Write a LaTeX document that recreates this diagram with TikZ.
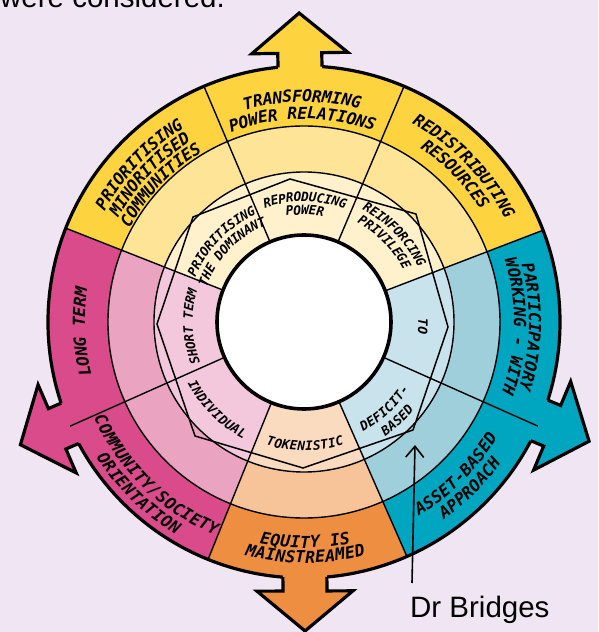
\documentclass[tikz,border=0pt]{standalone}
\usepackage{fontspec}
\setmainfont{Liberation Sans}
\newfontfamily\labmono{DejaVu Sans Mono}
\usetikzlibrary{decorations.text,arrows.meta}
\definecolor{bgcol}{RGB}{240,230,243}
\definecolor{yelA}{RGB}{253,212,64}
\definecolor{yelB}{RGB}{254,228,150}
\definecolor{yelC}{RGB}{254,241,204}
\definecolor{pnkA}{RGB}{217,75,138}
\definecolor{pnkB}{RGB}{235,163,194}
\definecolor{pnkC}{RGB}{243,200,220}
\definecolor{tealA}{RGB}{0,166,192}
\definecolor{tealB}{RGB}{160,207,220}
\definecolor{tealC}{RGB}{200,227,236}
\definecolor{orgA}{RGB}{238,142,64}
\definecolor{orgB}{RGB}{246,196,152}
\definecolor{orgC}{RGB}{250,219,192}

\newcommand\outf{\labmono\fontsize{16.5}{16.5}\selectfont\bfseries\itshape}
\newcommand\innf{\labmono\fontsize{12.8}{12.8}\selectfont\bfseries\itshape}

\newcommand\wheelpie[4]{\fill[#4] (0,0) -- (#1:#3) arc[start angle=#1,end angle=#2,radius=#3] -- cycle;}
\newcommand\cwlabel[5]{\path[decorate,decoration={text along path,text align=center,raise=#4,text={|#3|#5}}] ({#2+60}:#1) arc[start angle={#2+60},end angle={#2-60},radius=#1];}
\newcommand\ccwlabel[5]{\path[decorate,decoration={text along path,text align=center,raise=#4,text={|#3|#5}}] ({#2-60}:#1) arc[start angle={#2-60},end angle={#2+60},radius=#1];}
\newcommand\wheelarrow[2]{\begin{scope}[rotate=#1]
 \fill[#2] (243,-22) -- (269,-22) -- (269,-48) -- (309,0) -- (269,48) -- (269,22) -- (243,22) -- cycle;
 \draw[rimline] (255,-22) -- (269,-22) -- (269,-48) -- (309,0) -- (269,48) -- (269,22) -- (255,22);
 \end{scope}}

\begin{document}
\begin{tikzpicture}[x=1pt,y=1pt,
  rimline/.style={line width=3.2pt,line join=miter,miter limit=10},
  thinline/.style={line width=1.4pt},
  octline/.style={line width=1.5pt,line join=miter},
  plaintext/.style={anchor=base west,inner sep=0pt,font=\fontsize{29.5}{31}\selectfont}]
\useasboundingbox (-304,-310) rectangle (294,322);
\clip (-304,-310) rectangle (294,322);
\fill[bgcol] (-304,-310) rectangle (294,322);
\node[plaintext] (prevline) at (-304,314) {were considered.};
% sectors
\wheelpie{21}{158.5}{256}{yelA}\wheelpie{21}{158.5}{196}{yelB}\wheelpie{21}{158.5}{150}{yelC}
\wheelpie{158.5}{248}{256}{pnkA}\wheelpie{158.5}{248}{196}{pnkB}\wheelpie{158.5}{248}{150}{pnkC}
\wheelpie{248}{293.7}{256}{orgA}\wheelpie{248}{293.7}{196}{orgB}\wheelpie{248}{293.7}{150}{orgC}
\wheelpie{293.7}{381}{256}{tealA}\wheelpie{293.7}{381}{196}{tealB}\wheelpie{293.7}{381}{150}{tealC}
\draw[rimline] (0,0) circle[radius=256];
\wheelarrow{90.9}{yelA}
\wheelarrow{270.2}{orgA}
\wheelarrow{203.4}{pnkA}
\wheelarrow{-22.7}{tealA}
\draw[thinline] (0,0) circle[radius=196];
\draw[thinline] (0,0) circle[radius=150];
\foreach \a in {-24,21,67,113,158.5,204,248,293.7} \draw[thinline] (\a:87) -- (\a:256);
\fill[white] (0,0) circle[radius=87];
\draw[line width=3.6pt] (0,0) circle[radius=87];
\draw[octline] (-147,-2) -- (-111,105) -- (-14,143) -- (112,108) -- (144,-5) -- (109,-108) -- (-1,-146) -- (-109,-114) -- cycle;
% outer labels
\cwlabel{226}{90.5}{\outf}{-6pt}{TRANSFORMING}
\cwlabel{209}{90.5}{\outf}{-6pt}{POWER RELATIONS}
\cwlabel{234}{136.3}{\outf}{-6pt}{PRIORITISING}
\cwlabel{219}{136.3}{\outf}{-6pt}{MINORITISED}
\cwlabel{204}{136.3}{\outf}{-6pt}{COMMUNITIES}
\cwlabel{232}{44.3}{\outf}{-6pt}{REDISTRIBUTING}
\cwlabel{215}{44.3}{\outf}{-6pt}{RESOURCES}
\cwlabel{231}{-1.3}{\outf}{-6pt}{PARTICIPATORY}
\cwlabel{216}{-1.3}{\outf}{-6pt}{WORKING - WITH}
\ccwlabel{219}{-45}{\outf}{-6pt}{ASSET-BASED}
\ccwlabel{236}{-45}{\outf}{-6pt}{APPROACH}
\ccwlabel{220}{270.3}{\outf}{-6pt}{EQUITY IS}
\ccwlabel{235}{270.3}{\outf}{-6pt}{MAINSTREAMED}
\ccwlabel{225}{226}{\outf}{-6pt}{COMMUNITY/SOCIETY}
\ccwlabel{242}{226}{\outf}{-6pt}{ORIENTATION}
\cwlabel{225}{182.5}{\outf}{-6pt}{LONG TERM}
% inner labels
\cwlabel{125}{89.5}{\innf}{-4.6pt}{REPRODUCING}
\cwlabel{112}{89.5}{\innf}{-4.6pt}{POWER}
\cwlabel{131}{44}{\innf}{-4.6pt}{REINFORCING}
\cwlabel{117}{44.7}{\innf}{-4.6pt}{PRIVILEGE}
\cwlabel{119}{-2.2}{\innf}{-4.6pt}{TO}
\ccwlabel{120}{-47}{\innf}{-4.6pt}{DEFICIT-}
\ccwlabel{136}{-46.6}{\innf}{-4.6pt}{BASED}
\ccwlabel{124}{270.5}{\innf}{-4.6pt}{TOKENISTIC}
\ccwlabel{127}{225.3}{\innf}{-4.6pt}{INDIVIDUAL}
\cwlabel{116}{182.3}{\innf}{-4.6pt}{SHORT TERM}
\cwlabel{122}{135.7}{\innf}{-4.6pt}{PRIORITISING}
\cwlabel{108}{135.8}{\innf}{-4.6pt}{THE DOMINANT}
% Dr Bridges
\node[plaintext] (drb) at (106,-295) {Dr Bridges};
\coordinate (drbfoot) at (108,-261);
\coordinate (drbtip) at (111,-123);
\draw[line width=1.6pt,-{Straight Barb[length=11pt,width=18pt]}] (drbfoot) -- (drbtip);
\end{tikzpicture}
\end{document}
